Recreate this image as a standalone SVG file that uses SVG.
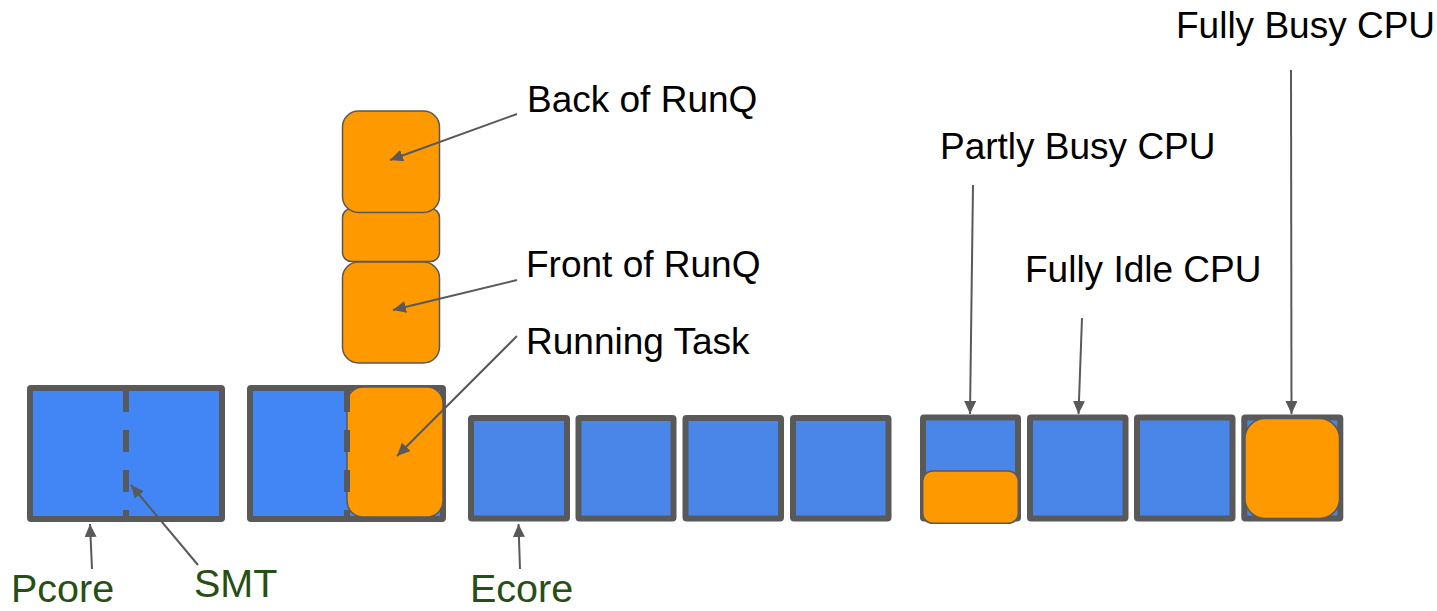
<svg xmlns="http://www.w3.org/2000/svg" width="1437" height="611" viewBox="0 0 1437 611">
<defs>
<style>
.lbl{font-family:"Liberation Sans",Arial,sans-serif;font-size:37px;fill:#000}
.grn{font-family:"Liberation Sans",Arial,sans-serif;font-size:39.5px;fill:#274e13}
.p{fill:#4285f4;stroke:#595959;stroke-width:6}
.e{fill:#4a86e8;stroke:#595959;stroke-width:6}
.o{fill:#ff9900;stroke:#595959;stroke-width:1.5}
.smt{stroke:#595959;stroke-width:6;stroke-dasharray:22 18;fill:none}
.c{stroke:#595959;stroke-width:2;fill:none;marker-end:url(#ah)}
</style>
<marker id="ah" markerUnits="userSpaceOnUse" markerWidth="14" markerHeight="12" refX="13" refY="6" orient="auto">
<path d="M0,0 L13,6 L0,12 z" fill="#595959"/>
</marker>
</defs>
<rect width="1437" height="611" fill="#fff"/>

<g id="pcore1">
<rect class="p" x="30" y="388" width="192" height="131" rx="1"/>
<line class="smt" x1="126" y1="390" x2="126" y2="518"/>
</g>
<g id="pcore2">
<rect class="p" x="250" y="388" width="193" height="131" rx="1"/>
<rect class="o" x="347" y="387" width="96" height="130" rx="16"/>
<line class="smt" x1="347" y1="390" x2="347" y2="518"/>
</g>

<g id="runq">
<rect class="o" x="342.5" y="208.5" width="97" height="53" rx="9"/>
<rect class="o" x="342.5" y="111" width="97" height="101.5" rx="16"/>
<rect class="o" x="342.5" y="262" width="97" height="101" rx="16"/>
</g>

<g id="ecore1"><rect class="e" x="471" y="418" width="96" height="100.5" rx="1"/></g>
<g id="ecore2"><rect class="e" x="578.5" y="418" width="95" height="100.5" rx="1"/></g>
<g id="ecore3"><rect class="e" x="685.5" y="418" width="95.5" height="100.5" rx="1"/></g>
<g id="ecore4"><rect class="e" x="793" y="418" width="95.5" height="100.5" rx="1"/></g>

<g id="cpu1">
<rect class="e" x="923" y="417.5" width="95" height="101" rx="1"/>
<rect class="o" x="922.7" y="471" width="95.6" height="52.3" rx="10"/>
</g>
<g id="cpu2"><rect class="e" x="1030" y="417.5" width="95.5" height="101" rx="1"/></g>
<g id="cpu3"><rect class="e" x="1137" y="417.5" width="95.5" height="101" rx="1"/></g>
<g id="cpu4">
<rect class="e" x="1244.3" y="417.5" width="96" height="101" rx="1"/>
<rect class="o" x="1245" y="418.5" width="94.5" height="100" rx="20"/>
</g>

<g id="connectors">
<line class="c" x1="517" y1="114" x2="390" y2="160"/>
<line class="c" x1="517" y1="280" x2="393" y2="310"/>
<line class="c" x1="517" y1="336" x2="397" y2="456"/>
<line class="c" x1="198" y1="565" x2="131" y2="485"/>
<line class="c" x1="92" y1="569" x2="90" y2="524"/>
<line class="c" x1="520" y1="569" x2="518.5" y2="524"/>
<line class="c" x1="973" y1="185" x2="970" y2="414"/>
<line class="c" x1="1082" y1="318" x2="1078.5" y2="414"/>
<line class="c" x1="1291" y1="70" x2="1291.5" y2="414"/>
</g>

<g id="labels">
<text class="lbl" x="1176" y="38">Fully Busy CPU</text>
<text class="lbl" x="527" y="112">Back of RunQ</text>
<text class="lbl" x="940" y="159">Partly Busy CPU</text>
<text class="lbl" x="1025" y="282">Fully Idle CPU</text>
<text class="lbl" x="526" y="277">Front of RunQ</text>
<text class="lbl" x="526" y="354">Running Task</text>
<text class="grn" x="11" y="602">Pcore</text>
<text class="grn" x="194" y="597">SMT</text>
<text class="grn" x="470" y="602">Ecore</text>
</g>
</svg>
